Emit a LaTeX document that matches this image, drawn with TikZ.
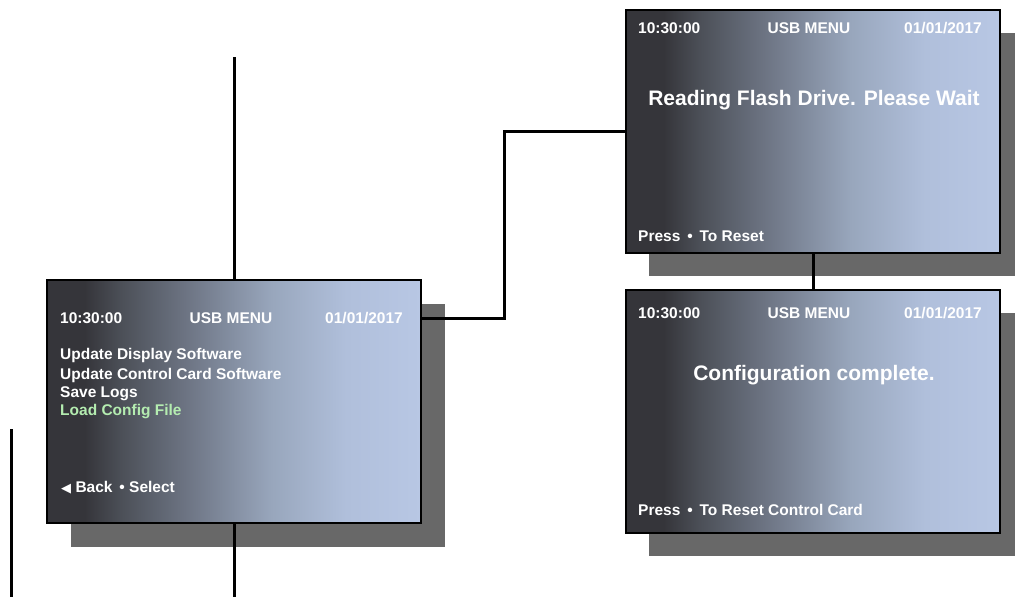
\documentclass[tikz,border=0pt]{standalone}
\usepackage{fontspec}
\setmainfont{Liberation Sans}
\usetikzlibrary{positioning}
\definecolor{scrA}{HTML}{35353A}
\definecolor{scrB}{HTML}{4C5058}
\definecolor{scrC}{HTML}{727A8A}
\definecolor{scrD}{HTML}{98A6BC}
\definecolor{scrE}{HTML}{B0BFDB}
\definecolor{scrF}{HTML}{B8C7E4}
\definecolor{shadowgray}{HTML}{686868}
\definecolor{selgreen}{HTML}{B4ECB0}
\pgfdeclarehorizontalshading{screenshade}{100bp}{color(0bp)=(scrA); color(25bp)=(scrA); color(30bp)=(scrA); color(35bp)=(scrB); color(45bp)=(scrC); color(55bp)=(scrD); color(65bp)=(scrE); color(75bp)=(scrF); color(100bp)=(scrF)}
\tikzset{
  screen/.style={draw=black, line width=2pt, shading=screenshade, minimum width=374pt, minimum height=243pt, inner sep=0pt},
  shadowbox/.style={fill=shadowgray, draw=none, minimum width=374pt, minimum height=243pt, inner sep=0pt},
  txt/.style={text=white, font=\bfseries\fontsize{15.5}{18}\selectfont, inner sep=0pt},
  bigtxt/.style={text=white, font=\bfseries\fontsize{21}{24}\selectfont, inner sep=0pt},
  conn/.style={draw=black, line width=3pt},
}
\begin{document}
\begin{tikzpicture}[x=1pt,y=-1pt]
\useasboundingbox (0,0) rectangle (1015,597);
% shadows
\node[shadowbox] (shL) at (258,425.5) {};
\node[shadowbox] (shT) at (836,154) {};
\node[shadowbox] (shB) at (836,434) {};
% screens
\node[screen] (L) at (234,401.5) {};
\node[screen] (T) at (813,131.5) {};
\node[screen] (B) at (813,411.5) {};
% left screen texts
\node[txt, anchor=west] (L1) at (60,318) {10:30:00};
\node[txt] (L2) at (231,318) {USB MENU};
\node[txt, anchor=east] (L3) at (403,318) {01/01/2017};
\node[txt, anchor=west] (L4) at (60,355) {Update Display Software};
\node[txt, anchor=west] (L5) at (60,375) {Update Control Card Software};
\node[txt, anchor=west] (L6) at (60,394) {Save Logs};
\node[txt, anchor=west, text=selgreen] (L7) at (60,412) {Load Config File};
\node[txt, anchor=west] (L8) at (61,488) {{\fontspec{DejaVu Sans}\fontsize{13}{16}\selectfont ◀} Back \,• Select};
% top right texts
\node[txt, anchor=west] (T1) at (638,28) {10:30:00};
\node[txt] (T2) at (809,28) {USB MENU};
\node[txt, anchor=east] (T3) at (982,28) {01/01/2017};
\node[bigtxt] (T4) at (814,100) {Reading Flash Drive. Please Wait};
\node[txt, anchor=west] (T5) at (638,236) {Press \,•\, To Reset};
% bottom right texts
\node[txt, anchor=west] (B1) at (638,313) {10:30:00};
\node[txt] (B2) at (809,313) {USB MENU};
\node[txt, anchor=east] (B3) at (982,313) {01/01/2017};
\node[bigtxt] (B4) at (814,375) {Configuration complete.};
\node[txt, anchor=west] (B5) at (638,510) {Press \,•\, To Reset Control Card};
% free ends
\coordinate (topend) at (234,57);
\coordinate (botend) at (234,597);
\coordinate (farL1) at (11,429);
\coordinate (farL2) at (11,597);
\coordinate (kneeA) at (504,318);
\coordinate (kneeB) at (504,131.5);
% connectors
\draw[conn] (topend) -- (L.north);
\draw[conn] (L.south) -- (botend);
\draw[conn] (farL1) -- (farL2);
\draw[conn] (L.east |- L3) -- (kneeA) -- (kneeB) -- (T.west);
\draw[conn] (T.south) -- (B.north);
\end{tikzpicture}
\end{document}
